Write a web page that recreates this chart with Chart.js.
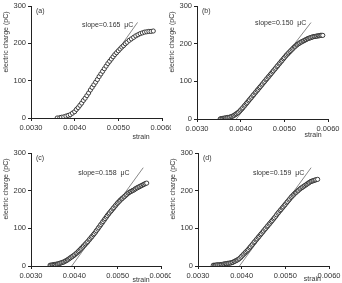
<!DOCTYPE html>
<html>
<head>
<meta charset="utf-8">
<script src="https://cdn.jsdelivr.net/npm/chart.js@4.4.1/dist/chart.umd.min.js"></script>
<style>
  body { margin: 0; background: #fff; }
  #figure { position: relative; width: 342px; height: 283px; overflow: hidden; }
  canvas { position: absolute; }
</style>
</head>
<body>
<div id="figure">
  <canvas id="panelA" width="171" height="141" style="left:0;top:0"></canvas>
  <canvas id="panelB" width="176" height="141" style="left:166px;top:0"></canvas>
  <canvas id="panelC" width="171" height="142" style="left:0;top:141px"></canvas>
  <canvas id="panelD" width="176" height="142" style="left:166px;top:141px"></canvas>
</div>
<script>
// axis ticks shared by all four panels
const xTicks = [0.0030, 0.0040, 0.0050, 0.0060];
const yTicks = [0, 100, 200, 300];
const panelLetters = ['(a)', '(b)', '(c)', '(d)'];
const slopeTexts = ['slope=0.165  μC', 'slope=0.150  μC', 'slope=0.158  μC', 'slope=0.159  μC'];

const strainA = [0.00360, 0.00366, 0.00370, 0.00375, 0.00380, 0.00385, 0.00390, 0.00395, 0.00400, 0.00404,
  0.00408, 0.00412, 0.00416, 0.00420, 0.00424, 0.00428, 0.00432, 0.00436, 0.00440, 0.00444,
  0.00448, 0.00452, 0.00456, 0.00460, 0.00464, 0.00468, 0.00472, 0.00476, 0.00480, 0.00484,
  0.00488, 0.00492, 0.00496, 0.00500, 0.00504, 0.00508, 0.00512, 0.00516, 0.00520, 0.00525,
  0.00530, 0.00535, 0.00540, 0.00545, 0.00550, 0.00555, 0.00560, 0.00565, 0.00570, 0.00575, 0.00580];
const chargeA = [0, 1, 2, 3, 5, 7, 9, 13, 17, 23,
  28, 34, 40, 47, 53, 60, 67, 75, 82, 89,
  96, 103, 111, 118, 125, 132, 139, 146, 152, 158,
  164, 170, 175, 180, 185, 190, 194, 199, 203, 208,
  212, 216, 220, 223, 226, 228, 230, 231, 232, 232, 233];

const strainB = [0.00353, 0.00355, 0.00358, 0.00360, 0.00363, 0.00365, 0.00368, 0.00370, 0.00373, 0.00375,
  0.00378, 0.00380, 0.00383, 0.00385, 0.00388, 0.00390, 0.00393, 0.00395, 0.00398, 0.00400,
  0.00403, 0.00405, 0.00408, 0.00410, 0.00413, 0.00415, 0.00418, 0.00420, 0.00423, 0.00425,
  0.00428, 0.00430, 0.00433, 0.00435, 0.00438, 0.00440, 0.00443, 0.00445, 0.00448, 0.00450,
  0.00453, 0.00455, 0.00458, 0.00460, 0.00463, 0.00465, 0.00468, 0.00470, 0.00473, 0.00475,
  0.00478, 0.00480, 0.00483, 0.00485, 0.00488, 0.00490, 0.00493, 0.00495, 0.00498, 0.00500,
  0.00503, 0.00505, 0.00508, 0.00510, 0.00513, 0.00515, 0.00518, 0.00520, 0.00523, 0.00525,
  0.00528, 0.00530, 0.00533, 0.00535, 0.00538, 0.00540, 0.00543, 0.00545, 0.00548, 0.00550,
  0.00553, 0.00555, 0.00558, 0.00560, 0.00563, 0.00565, 0.00568, 0.00570, 0.00573, 0.00575,
  0.00578, 0.00580, 0.00583, 0.00585, 0.00588];
const chargeB = [0, 1, 1, 2, 2, 3, 3, 4, 4, 5,
  6, 7, 8, 10, 12, 14, 16, 18, 21, 24,
  27, 30, 34, 37, 41, 44, 48, 51, 55, 58,
  62, 65, 69, 72, 76, 79, 83, 86, 90, 93,
  97, 100, 104, 107, 111, 114, 118, 121, 125, 128,
  132, 135, 139, 142, 146, 149, 153, 156, 160, 163,
  167, 170, 173, 176, 179, 182, 185, 188, 191, 193,
  196, 198, 200, 202, 204, 205, 207, 208, 210, 211,
  213, 214, 215, 216, 217, 218, 219, 219, 220, 220,
  221, 221, 222, 222, 222];

const strainC = [0.00344, 0.00346, 0.00349, 0.00351, 0.00354, 0.00356, 0.00359, 0.00361, 0.00364, 0.00366,
  0.00369, 0.00371, 0.00374, 0.00376, 0.00379, 0.00381, 0.00384, 0.00386, 0.00389, 0.00391,
  0.00394, 0.00396, 0.00399, 0.00401, 0.00404, 0.00406, 0.00409, 0.00411, 0.00414, 0.00416,
  0.00419, 0.00421, 0.00424, 0.00426, 0.00429, 0.00431, 0.00434, 0.00436, 0.00439, 0.00441,
  0.00444, 0.00446, 0.00449, 0.00451, 0.00454, 0.00456, 0.00459, 0.00461, 0.00464, 0.00466,
  0.00469, 0.00471, 0.00474, 0.00476, 0.00479, 0.00481, 0.00484, 0.00486, 0.00489, 0.00491,
  0.00494, 0.00496, 0.00499, 0.00501, 0.00504, 0.00506, 0.00509, 0.00511, 0.00514, 0.00516,
  0.00519, 0.00521, 0.00524, 0.00526, 0.00529, 0.00531, 0.00534, 0.00536, 0.00539, 0.00541,
  0.00544, 0.00546, 0.00549, 0.00551, 0.00554, 0.00556, 0.00559, 0.00561, 0.00564, 0.00567];
const chargeC = [2, 2, 3, 3, 4, 4, 5, 5, 6, 7,
  8, 9, 10, 11, 13, 14, 16, 18, 20, 22,
  24, 26, 28, 30, 33, 35, 38, 41, 44, 47,
  50, 53, 56, 59, 62, 65, 69, 72, 76, 79,
  83, 86, 90, 94, 98, 102, 106, 110, 114, 118,
  122, 126, 130, 134, 138, 141, 145, 148, 152, 155,
  159, 162, 166, 169, 172, 175, 178, 180, 183, 185,
  188, 190, 193, 195, 197, 198, 200, 201, 203, 205,
  207, 208, 210, 211, 213, 214, 216, 217, 219, 220];

const strainD = [0.00335, 0.00338, 0.00340, 0.00343, 0.00345, 0.00348, 0.00350, 0.00353, 0.00355, 0.00358,
  0.00360, 0.00363, 0.00365, 0.00368, 0.00370, 0.00373, 0.00375, 0.00378, 0.00380, 0.00383,
  0.00385, 0.00388, 0.00390, 0.00393, 0.00395, 0.00398, 0.00400, 0.00403, 0.00405, 0.00408,
  0.00410, 0.00413, 0.00415, 0.00418, 0.00420, 0.00423, 0.00425, 0.00428, 0.00430, 0.00433,
  0.00435, 0.00438, 0.00440, 0.00443, 0.00445, 0.00448, 0.00450, 0.00453, 0.00455, 0.00458,
  0.00460, 0.00463, 0.00465, 0.00468, 0.00470, 0.00473, 0.00475, 0.00478, 0.00480, 0.00483,
  0.00485, 0.00488, 0.00490, 0.00493, 0.00495, 0.00498, 0.00500, 0.00503, 0.00505, 0.00508,
  0.00510, 0.00513, 0.00515, 0.00518, 0.00520, 0.00523, 0.00525, 0.00528, 0.00530, 0.00533,
  0.00535, 0.00538, 0.00540, 0.00543, 0.00545, 0.00548, 0.00550, 0.00553, 0.00555, 0.00558,
  0.00560, 0.00563, 0.00565, 0.00568, 0.00570, 0.00574];
const chargeD = [2, 2, 2, 3, 3, 3, 3, 4, 4, 5,
  5, 6, 6, 7, 7, 8, 8, 9, 10, 12,
  13, 15, 16, 18, 20, 23, 26, 29, 32, 35,
  38, 41, 44, 48, 51, 55, 58, 62, 65, 69,
  72, 76, 79, 83, 86, 90, 93, 97, 100, 104,
  107, 111, 114, 118, 121, 125, 128, 132, 136, 140,
  143, 147, 150, 154, 157, 161, 164, 168, 171, 175,
  178, 182, 185, 188, 191, 194, 196, 199, 201, 204,
  206, 208, 210, 212, 214, 216, 218, 220, 222, 224,
  225, 226, 227, 228, 229, 230];

// fitted slope lines (end points)
const slopeStrainA = [0.00389, 0.00544], slopeChargeA = [0, 256];
const slopeStrainB = [0.00390, 0.00561], slopeChargeB = [0, 256];
const slopeStrainC = [0.00394, 0.00559], slopeChargeC = [0, 261];
const slopeStrainD = [0.00395, 0.00559], slopeChargeD = [0, 261];

const fontFamily = '"Liberation Sans", Arial, sans-serif';
const tickFont = { family: fontFamily, size: 7.5 };
const textColor = '#333';
const axisColor = '#222';

function toPoints(xs, ys) {
    return xs.map((x, i) => ({ x: x, y: ys[i] }));
}

// letter, slope note, x title and y title drawn on top of each panel
const panelText = {
    id: 'panelText',
    afterDraw(chart, args, opts) {
        let { ctx, chartArea, scales } = chart;
        ctx.save();
        ctx.fillStyle = textColor;
        ctx.font = `7px ${fontFamily}`;
        ctx.textBaseline = 'middle';
        ctx.textAlign = 'left';
        ctx.fillText(opts.letter, chartArea.left + 5, chartArea.top + 5);
        ctx.fillText(opts.slope, scales.x.getPixelForValue(opts.slopeAt[0]), scales.y.getPixelForValue(opts.slopeAt[1]));
        ctx.textAlign = 'center';
        ctx.fillText('strain', scales.x.getPixelForValue(opts.strainAt), chartArea.bottom + opts.strainDrop);
        ctx.translate(chartArea.left - 25, chartArea.top + 36);
        ctx.rotate(-Math.PI / 2);
        ctx.fillText('electric charge (pC)', 0, 0);
        ctx.restore();
    }
};

function makePanel(id, points, slopePoints, layout, text) {
    new Chart(document.getElementById(id), {
        type: 'scatter',
        data: {
            datasets: [{
                data: points,
                pointStyle: 'circle',
                pointRadius: 2.1,
                borderWidth: 0.9,
                borderColor: '#2a2a2a',
                backgroundColor: '#fff'
            }, {
                type: 'line',
                data: slopePoints,
                borderColor: '#555',
                borderWidth: 0.7,
                pointRadius: 0,
                fill: false
            }]
        },
        options: {
            responsive: false,
            animation: false,
            events: [],
            layout: { padding: { left: 0, top: layout.top, right: layout.right, bottom: 0 } },
            plugins: {
                legend: { display: false },
                tooltip: { enabled: false },
                panelText: text
            },
            scales: {
                x: {
                    type: 'linear',
                    min: 0.003,
                    max: 0.006,
                    afterBuildTicks: axis => { axis.ticks = xTicks.map(v => ({ value: v })); },
                    afterFit: axis => { axis.height = layout.xHeight; axis.paddingLeft = 0; axis.paddingRight = 0; },
                    ticks: { callback: v => v.toFixed(4), maxRotation: 0, autoSkip: false, padding: 2, color: textColor, font: tickFont },
                    grid: { drawOnChartArea: false, tickLength: 3, color: axisColor },
                    border: { color: axisColor, width: 1 }
                },
                y: {
                    min: 0,
                    max: 300,
                    afterBuildTicks: axis => { axis.ticks = yTicks.map(v => ({ value: v })); },
                    afterFit: axis => { axis.width = layout.yWidth; axis.paddingTop = 0; axis.paddingBottom = 0; },
                    ticks: { padding: 2, color: textColor, font: tickFont },
                    grid: { drawOnChartArea: false, tickLength: 3, color: axisColor },
                    border: { color: axisColor, width: 1 }
                }
            }
        },
        plugins: [panelText]
    });
}

makePanel('panelA', toPoints(strainA, chargeA), toPoints(slopeStrainA, slopeChargeA),
    { top: 6, right: 9, xHeight: 23, yWidth: 31 },
    { letter: panelLetters[0], slope: slopeTexts[0], slopeAt: [0.00417, 249], strainAt: 0.00552, strainDrop: 19 });
makePanel('panelB', toPoints(strainB, chargeB), toPoints(slopeStrainB, slopeChargeB),
    { top: 6, right: 14, xHeight: 22, yWidth: 31 },
    { letter: panelLetters[1], slope: slopeTexts[1], slopeAt: [0.00433, 254], strainAt: 0.00566, strainDrop: 16 });
makePanel('panelC', toPoints(strainC, chargeC), toPoints(slopeStrainC, slopeChargeC),
    { top: 12, right: 10, xHeight: 17, yWidth: 31 },
    { letter: panelLetters[2], slope: slopeTexts[2], slopeAt: [0.00409, 247], strainAt: 0.00554, strainDrop: 14 });
makePanel('panelD', toPoints(strainD, chargeD), toPoints(slopeStrainD, slopeChargeD),
    { top: 12, right: 13, xHeight: 17, yWidth: 32 },
    { letter: panelLetters[3], slope: slopeTexts[3], slopeAt: [0.00426, 246], strainAt: 0.00562, strainDrop: 13 });
</script>
</body>
</html>
